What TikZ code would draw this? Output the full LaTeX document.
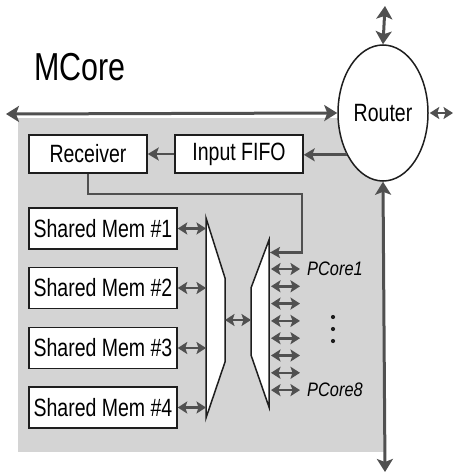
\documentclass[tikz,border=0pt]{standalone}
\usepackage{fontspec}
\usetikzlibrary{shapes.geometric,arrows.meta}
\newfontfamily\narrowfont{Liberation Sans}[FakeStretch=0.78]
\newfontfamily\narrowit{Liberation Sans}[FakeStretch=0.84,UprightFont=*-Italic]
\definecolor{bggray}{HTML}{D4D4D4}
\definecolor{arrgray}{HTML}{505050}
\definecolor{boxline}{HTML}{1E1E1E}
\begin{document}
\begin{tikzpicture}[x=1pt,y=-1pt,
  blockbox/.style={draw=boxline,line width=1.5pt,fill=white,inner sep=0pt,
    font=\narrowfont\fontsize{25}{28}\selectfont},
  bigarrow/.style={draw=arrgray,line width=3pt,{Stealth[length=13pt,width=16pt,inset=3pt]}-{Stealth[length=13pt,width=16pt,inset=3pt]}},
  onearrow/.style={draw=arrgray,line width=2.6pt,-{Stealth[length=11pt,width=13pt,inset=2.5pt]}},
  smallarrow/.style={draw=arrgray,line width=2.6pt,{Stealth[length=9.5pt,width=12pt,inset=2pt]}-{Stealth[length=9.5pt,width=12pt,inset=2pt]}},
  muxshape/.style={draw=boxline,line width=1.5pt,fill=white,line join=miter},
  corelabel/.style={anchor=west,inner sep=0pt,font=\narrowit\fontsize{19.5}{22}\selectfont}]
\useasboundingbox (0,0) rectangle (453,473);
% background region
\fill[bggray] (18,118) rectangle (384,452);
% title
\node[anchor=west,inner sep=0pt,font=\narrowfont\fontsize{39}{44}\selectfont] (title) at (34,67) {MCore};
% router
\node[ellipse,draw=boxline,line width=1.5pt,fill=white,minimum width=90pt,minimum height=136pt,inner sep=0pt,
  font=\narrowfont\fontsize{25}{28}\selectfont] (router) at (383,113) {Router};
\coordinate (topend) at (385,6);
\coordinate (rightend) at (453,113);
\coordinate (leftend) at (6,114);
\coordinate (bottomend) at (385,472);
\draw[bigarrow] (topend) -- (router.north);
\draw[smallarrow,shorten <=1pt] (router.east) -- (rightend);
\draw[bigarrow] (leftend) -- (router.west);
\draw[bigarrow] (router.south) -- (bottomend);
% blocks
\node[blockbox,minimum width=118pt,minimum height=38pt] (rec) at (88,154) {Receiver};
\node[blockbox,minimum width=128pt,minimum height=38pt] (fifo) at (239,154) {Input FIFO};
\draw[onearrow] (router.229) -- (router.229 -| fifo.east);
\draw[onearrow] (fifo.west) -- (rec.east);
\node[blockbox,minimum width=148pt,minimum height=41pt] (m1) at (103,228.5) {Shared Mem \#1};
\node[blockbox,minimum width=148pt,minimum height=41pt] (m2) at (103,288) {Shared Mem \#2};
\node[blockbox,minimum width=148pt,minimum height=41pt] (m3) at (103,348) {Shared Mem \#3};
\node[blockbox,minimum width=148pt,minimum height=41pt] (m4) at (103,407.5) {Shared Mem \#4};
% muxes
\draw[muxshape] (206,218) coordinate (lmA) -- (225,278) -- (225,362) -- (206,418) -- cycle;
\draw[muxshape] (269,240) coordinate (rmA) -- (269,407) -- (251,355) -- (251,288) -- cycle;
\coordinate (lmR) at (225,320);
\coordinate (rmL) at (251,320);
\foreach \m in {m1,m2,m3,m4}{
  \draw[smallarrow] (\m.east) -- (\m.east -| lmA);
}
\draw[smallarrow] (lmR) -- (rmL);
% feedback from receiver
\coordinate (fbend) at (270,252.5);
\draw[draw=arrgray,line width=2.2pt,-{Stealth[length=10pt,width=11pt,inset=2pt]}] (rec.south) |- (302,194) |- (fbend);
% PCore arrows
\foreach \i in {0,...,7}{
  \coordinate (ps\i) at (271,{269+\i*17.3});
  \coordinate (pe\i) at (300,{269+\i*17.3});
  \draw[smallarrow] (ps\i) -- (pe\i);
}
\node[corelabel] (pc1) at (307,269) {PCore1};
\node[corelabel] (pc8) at (307,390) {PCore8};
\foreach \y/\n in {317/d1,329/d2,341/d3}{
  \fill[boxline] (333,\y) circle (2.1pt);
}
\end{tikzpicture}
\end{document}
